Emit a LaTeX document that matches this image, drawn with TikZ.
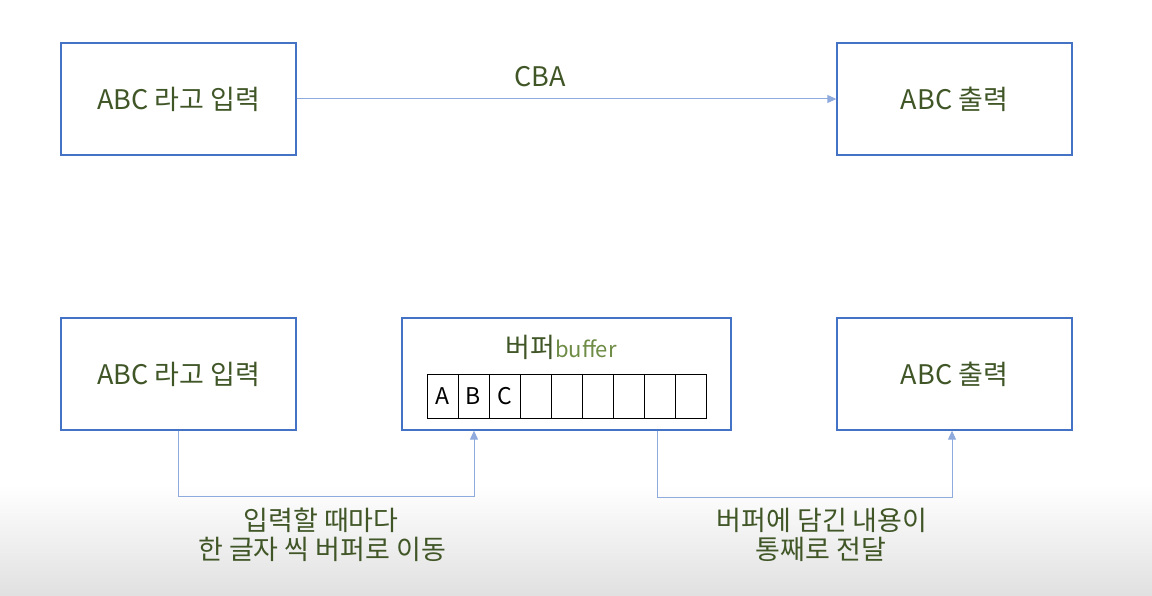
\documentclass[tikz,border=0pt]{standalone}
\usepackage{fontspec}
\setmainfont{Noto Sans CJK KR}
\usetikzlibrary{arrows.meta}
\definecolor{boxblue}{HTML}{4472C4}
\definecolor{lineblue}{HTML}{8FAADC}
\definecolor{txtgreen}{HTML}{405627}
\definecolor{bufgreen}{HTML}{6E8C45}
\tikzset{
  x=1pt,y=-1pt,
  box/.style={draw=boxblue,line width=1.3pt,fill=white,minimum width=235pt,minimum height=112pt,inner sep=0pt,font=\fontsize{27}{32}\selectfont,text=txtgreen},
  conn/.style={draw=lineblue,line width=1pt},
  tip/.style={-{Triangle[length=9pt,width=8pt]}},
  cell/.style={draw=black,line width=0.9pt,minimum width=31pt,minimum height=44pt,inner sep=0pt,font=\fontsize{23}{26}\selectfont},
  lbl/.style={text=txtgreen,font=\fontsize{27}{32}\selectfont,inner sep=0pt}
}
\begin{document}
\begin{tikzpicture}
\useasboundingbox (0,0) rectangle (1152,596);
\shade[top color=white,bottom color=black!12] (0,485) rectangle (1152,596);
% top row
\node[box] (in1) at (178.5,99) {ABC 라고 입력};
\node[box] (out1) at (954.5,99) {ABC 출력};
\draw[conn,tip] (in1.east) -- (out1.west);
\node[lbl] (cba) at (540,77) {CBA};
% bottom row
\node[box] (in2) at (178.5,374) {ABC 라고 입력};
\node[box,minimum width=329pt] (buf) at (566.5,374) {};
\node[box] (out2) at (954.5,374) {ABC 출력};
\node[lbl] (buftitle) at (561,347) {버퍼{\fontsize{22}{26}\selectfont\color{bufgreen}buffer}};
\foreach \i/\t in {1/A,2/B,3/C,4/,5/,6/,7/,8/,9/}{
  \node[cell] (c\i) at ({427+31*(\i-0.5)},396) {\t};
}
\coordinate (p1) at (178,496);
\coordinate (p2) at (474,496);
\draw[conn,tip] (in2.south -| p1) -- (p1) -- (p2) -- (buf.south -| p2);
\coordinate (q1) at (657,497);
\coordinate (q2) at (952,497);
\draw[conn,tip] (buf.south -| q1) -- (q1) -- (q2) -- (out2.south -| q2);
\node[lbl] (l1a) at (321,520) {입력할 때마다};
\node[lbl] (l1b) at (322,549) {한 글자 씩 버퍼로 이동};
\node[lbl] (l2a) at (822,520) {버퍼에 담긴 내용이};
\node[lbl] (l2b) at (821,549) {통째로 전달};
\end{tikzpicture}
\end{document}
